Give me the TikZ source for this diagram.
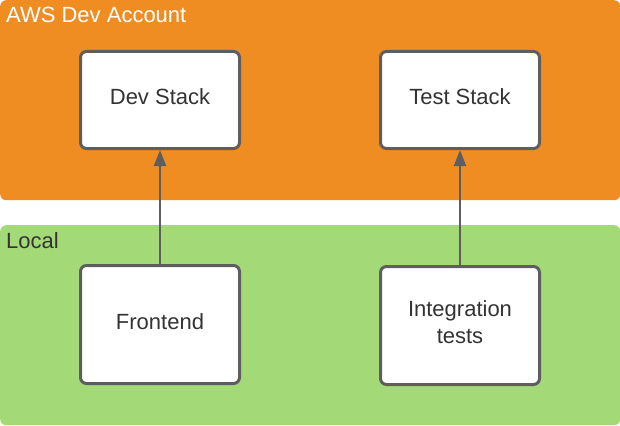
\documentclass[tikz,border=0pt]{standalone}
\usepackage{fontspec}
\setmainfont{Liberation Sans}
\usetikzlibrary{arrows.meta}
\definecolor{awsorange}{HTML}{EF8D22}
\definecolor{localgreen}{HTML}{A3D977}
\definecolor{edgegrey}{HTML}{5E5E5E}
\definecolor{textgrey}{HTML}{333333}
\tikzstyle{account}=[rounded corners=6pt,inner sep=0pt,anchor=north west,minimum width=620pt]
\tikzstyle{title}=[anchor=base west,inner sep=0pt,font=\fontsize{22}{27}\selectfont]
\tikzstyle{box}=[draw=edgegrey,line width=3pt,fill=white,rounded corners=6pt,minimum width=159pt,align=center,text=textgrey,text depth=6pt,font=\fontsize{22}{27}\selectfont]
\tikzstyle{edge}=[draw=edgegrey,line width=2pt,-{Triangle[length=16pt,width=12pt]}]

\begin{document}
\begin{tikzpicture}[x=1pt,y=-1pt]
	\useasboundingbox (0,0) rectangle (620,425);

	% First the two accounts and their titles
	\node[account,fill=awsorange,minimum height=200pt] (aws) at (0,0) {};
	\node[account,fill=localgreen,minimum height=200pt] (local) at (0,225) {};
	\node[title,text=white] (awstitle) at (6,23) {AWS Dev Account};
	\node[title,text=textgrey] (localtitle) at (6,248) {Local};

	% Then the stacks
	\foreach \pos/\name/\label in {{(160,100)/dev/Dev Stack}, {(460,100)/test/Test Stack}}
	\node[box,minimum height=97pt] (\name) at \pos {\label};

	\foreach \pos/\name/\label in {{(160,324.5)/front/Frontend}, {(460,325.5)/integ/{Integration\\tests}}}
	\node[box,minimum height=118pt] (\name) at \pos {\label};

	% Connect local code to the stacks
	\foreach \source/\dest in {front/dev, integ/test}
	\path[edge] (\source) -- (\dest);

\end{tikzpicture}
\end{document}
